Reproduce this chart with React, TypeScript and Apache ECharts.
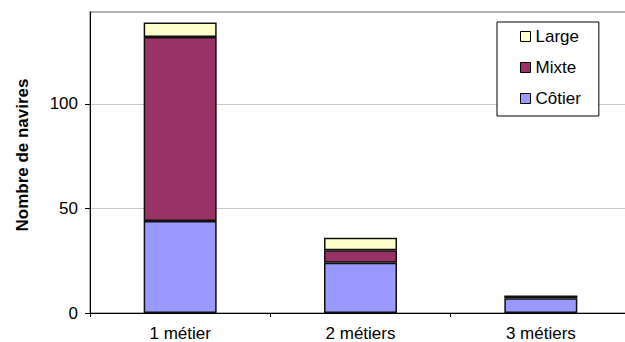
import React, { useEffect, useRef } from "react";
import * as echarts from "echarts";

const categories = ["1 métier", "2 métiers", "3 métiers"];
const cotier = [44, 24, 7];
const mixte = [88, 6, 1];
const large = [7, 6, 0];
const yTicks = [0, 50, 100];
const yMax = 144;
const seriesNames = ["Côtier", "Mixte", "Large"];
const legendOrder = ["Large", "Mixte", "Côtier"];
const colors = ["#9999FF", "#993366", "#FFFFCC"];

const FONT = "'Liberation Sans', Arial, sans-serif";

export default function App() {
  const ref = useRef<HTMLDivElement>(null);
  useEffect(() => {
    if (!ref.current) return;
    const chart = echarts.init(ref.current, undefined, { renderer: "svg" });
    const values = [cotier, mixte, large];
    chart.setOption({
      animation: false,
      grid: {
        left: 90,
        right: -6,
        top: 12,
        bottom: 29,
        containLabel: false,
        outerBoundsMode: "none",
        show: true,
        borderColor: "#999999",
        borderWidth: 1.5,
      },
      legend: {
        data: legendOrder,
        orient: "vertical",
        left: 497,
        top: 22,
        padding: [6, 18, 9, 23],
        itemGap: 14,
        itemWidth: 10,
        itemHeight: 10,
        itemTextGap: 7,
        icon: "rect",
        borderColor: "#000",
        borderWidth: 1,
        backgroundColor: "#fff",
        itemStyle: { borderColor: "#000", borderWidth: 1 },
        textStyle: { fontFamily: FONT, fontSize: 17, color: "#000", lineHeight: 17 },
      },
      xAxis: {
        type: "category",
        data: categories,
        axisLine: { lineStyle: { color: "#000", width: 1 } },
        axisTick: { show: true, length: 4, lineStyle: { color: "#000" } },
        axisLabel: { fontFamily: FONT, fontSize: 17, lineHeight: 16, color: "#000", margin: 12 },
      },
      yAxis: {
        type: "value",
        min: 0,
        max: yMax,
        interval: 50,
        axisLine: { show: true, lineStyle: { color: "#000", width: 1 } },
        axisTick: { show: true, length: 5, customValues: yTicks, lineStyle: { color: "#000" } },
        axisLabel: { fontFamily: FONT, fontSize: 17, color: "#000", margin: 12, customValues: yTicks },
        splitLine: { show: true, lineStyle: { color: "#c8c8c8", width: 1 } },
      },
      graphic: [
        {
          type: "text",
          x: 22,
          y: 155,
          rotation: Math.PI / 2,
          style: {
            text: "Nombre de navires",
            font: `bold 17px ${FONT}`,
            fill: "#000",
            align: "center",
            verticalAlign: "middle",
          },
        },
      ],
      series: seriesNames.map((name, i) => ({
        name,
        type: "bar",
        stack: "total",
        barWidth: 73,
        data: values[i],
        itemStyle: { color: colors[i], borderColor: "#111", borderWidth: 1.5 },
      })),
    });
    return () => chart.dispose();
  }, []);
  return (
    <div
      ref={ref}
      style={{ position: "fixed", left: 0, top: 0, width: 625, height: 342, background: "#fff" }}
    />
  );
}
